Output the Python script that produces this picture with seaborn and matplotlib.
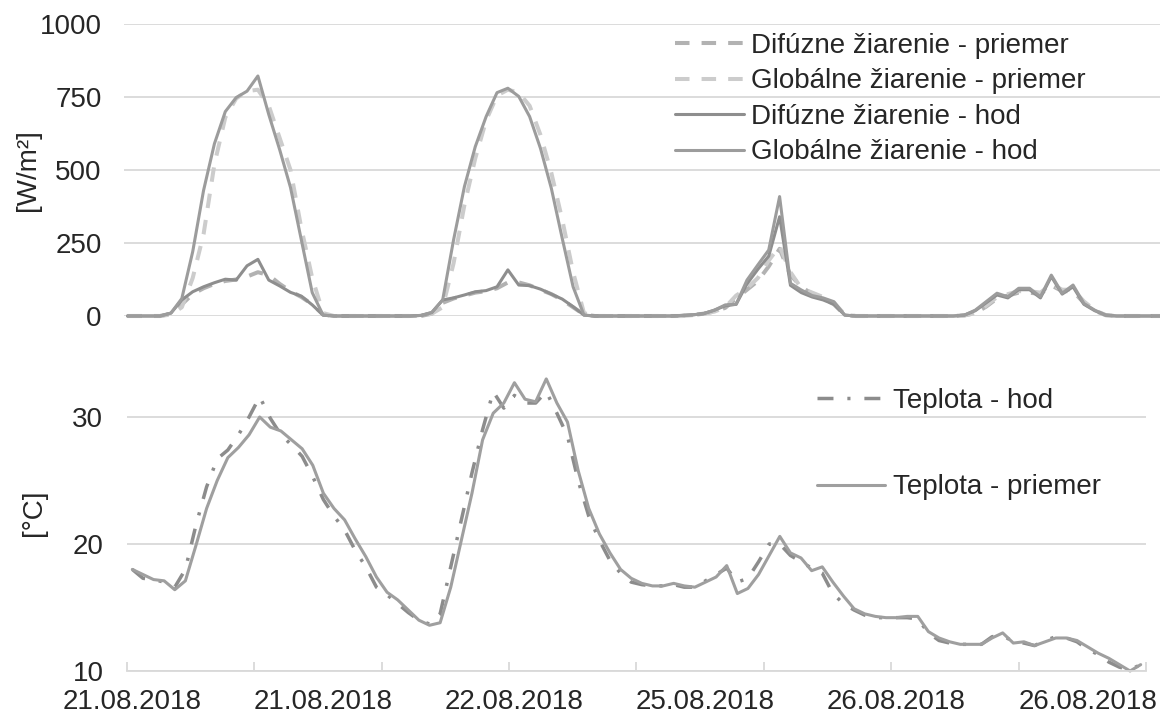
import numpy as np
import matplotlib
matplotlib.use("Agg")
import matplotlib.pyplot as plt
import seaborn as sns

# ---------------- data (hourly records, 4 measurement days) ----------------
hours_rad = list(range(96))
hours_temp = list(range(96))

dif_priemer = [0, 0, 0, 0, 8, 40, 75, 95, 110, 120, 125, 135, 150, 140, 110, 85, 65, 40, 5,
               0, 0, 0, 0, 0, 0, 0, 0, 0, 8, 45, 60, 70, 80, 85, 95, 115, 115, 105, 90, 75, 55, 30, 5,
               0, 0, 0, 0, 0, 0, 0, 0, 0, 3, 8, 15, 28, 60, 90, 120, 170, 230, 140, 100, 75, 60, 40, 3,
               0, 0, 0, 0, 0, 0, 0, 0, 0, 0, 2, 10, 32, 60, 70, 80, 80, 75, 105, 85, 85, 45, 18, 3,
               0, 0, 0, 0, 0]
glob_priemer = [0, 0, 0, 0, 5, 30, 130, 280, 520, 680, 745, 770, 775, 720, 610, 500, 300, 130, 10,
                0, 0, 0, 0, 0, 0, 0, 0, 0, 8, 30, 180, 380, 540, 670, 755, 775, 765, 720, 620, 490, 330, 150, 10,
                0, 0, 0, 0, 0, 0, 0, 0, 0, 3, 8, 15, 30, 70, 95, 130, 190, 240, 150, 95, 80, 65, 45, 5,
                0, 0, 0, 0, 0, 0, 0, 0, 0, 0, 2, 10, 35, 65, 75, 85, 85, 80, 110, 90, 90, 50, 20, 3,
                0, 0, 0, 0, 0]
dif_hod = [0, 0, 0, 0, 10, 55, 83, 100, 114, 126, 123, 172, 194, 123, 103, 81, 68, 38, 3,
           0, 0, 0, 0, 0, 0, 0, 0, 2, 12, 55, 62, 72, 83, 87, 100, 158, 106, 104, 92, 75, 58, 32, 3,
           0, 0, 0, 0, 0, 0, 0, 0, 2, 4, 8, 20, 35, 40, 110, 160, 205, 340, 105, 80, 65, 55, 40, 3,
           0, 0, 0, 0, 0, 0, 0, 0, 0, 0, 3, 18, 45, 72, 62, 90, 90, 62, 135, 75, 100, 40, 18, 3,
           0, 0, 0, 0, 0]
glob_hod = [0, 0, 0, 0, 10, 60, 220, 430, 590, 700, 748, 770, 822, 690, 570, 440, 260, 80, 3,
            0, 0, 0, 0, 0, 0, 0, 0, 2, 12, 55, 260, 443, 580, 683, 765, 780, 752, 683, 574, 437, 266, 100, 3,
            0, 0, 0, 0, 0, 0, 0, 0, 2, 4, 8, 20, 38, 40, 123, 175, 226, 409, 112, 89, 70, 62, 49, 3,
            0, 0, 0, 0, 0, 0, 0, 0, 0, 0, 3, 20, 49, 78, 66, 95, 95, 66, 140, 78, 106, 43, 20, 3,
            0, 0, 0, 0, 0]

teplota_hod = [18.0, 17.3, 17.2, 17.0, 16.6, 18.0, 21.5, 24.5, 26.7, 27.4, 28.6, 30.0, 31.6, 29.9,
               28.6, 27.8, 26.9, 25.3, 23.5, 22.2, 21.1, 19.5, 18.2, 16.6, 16.0, 15.3, 14.6, 14.0,
               13.7, 14.5, 18.2, 21.9, 25.6, 29.0, 32.0, 30.7, 31.7, 31.1, 31.1, 32.0, 30.3, 28.5,
               25.0, 22.2, 20.3, 18.7, 17.7, 17.0, 16.8, 16.7, 16.7, 16.8, 16.6, 16.6, 17.1, 17.6,
               18.1, 17.0, 17.3, 18.6, 20.0, 20.0, 19.1, 18.6, 18.1, 17.7, 16.1, 15.3, 14.8, 14.4,
               14.2, 14.2, 14.2, 14.2, 14.1, 13.0, 12.4, 12.2, 12.1, 12.1, 12.1, 12.7, 12.8, 12.3,
               12.2, 12.0, 12.4, 12.7, 12.6, 12.3, 11.7, 11.3, 10.7, 10.3, 10.1, 10.5]
teplota_priemer = [18.0, 17.6, 17.2, 17.1, 16.4, 17.1, 19.9, 22.8, 25.0, 26.8, 27.6, 28.6, 30.0, 29.2,
                   28.9, 28.2, 27.5, 26.2, 24.0, 22.8, 21.9, 20.4, 19.0, 17.4, 16.2, 15.6, 14.8, 14.0,
                   13.6, 13.8, 16.6, 20.3, 24.0, 28.2, 30.3, 31.1, 32.7, 31.4, 31.2, 33.0, 31.1, 29.6,
                   25.8, 22.8, 20.8, 19.3, 18.0, 17.3, 16.9, 16.7, 16.7, 16.9, 16.7, 16.6, 17.0, 17.4,
                   18.3, 16.1, 16.5, 17.6, 19.1, 20.6, 19.3, 18.9, 17.9, 18.2, 17.0, 15.9, 14.9, 14.5,
                   14.3, 14.2, 14.2, 14.3, 14.3, 13.1, 12.6, 12.3, 12.1, 12.1, 12.1, 12.6, 13.0, 12.2,
                   12.3, 12.0, 12.3, 12.6, 12.6, 12.4, 11.9, 11.4, 11.0, 10.5, 10.0, 10.5]

date_ticks = [0, 18, 36, 54, 72, 90]
date_labels = ["21.08.2018", "21.08.2018", "22.08.2018", "25.08.2018", "26.08.2018", "26.08.2018"]
rad_ticks = [0, 250, 500, 750, 1000]
temp_ticks = [10, 20, 30]

# ---------------- style ----------------
sns.set_theme(style="white")
plt.rcParams["font.family"] = ["Liberation Sans", "DejaVu Sans"]
TXT = "#262626"
GRID = "#d9d9d9"
FS = 20

fig = plt.figure(figsize=(11.6, 7.18), dpi=100)
W, H = 1160.0, 718.0

def px_axes(left, top, right, bottom):
    return fig.add_axes([left / W, 1 - bottom / H, (right - left) / W, (bottom - top) / H])

ax_rad = px_axes(124, 24, 1160, 316)
ax_tmp = px_axes(127, 353.5, 1146, 671)

# ---------------- radiation panel ----------------
rad_series = [
    (dif_priemer, "Difúzne žiarenie - priemer", "#b2b2b2", 2.9, (0, (3.6, 3.0))),
    (glob_priemer, "Globálne žiarenie - priemer", "#cccccc", 2.9, (0, (3.6, 3.0))),
    (dif_hod, "Difúzne žiarenie - hod", "#8e8e8e", 2.2, "-"),
    (glob_hod, "Globálne žiarenie - hod", "#9c9c9c", 2.2, "-"),
]
for vals, lab, col, lw, ls in rad_series:
    sns.lineplot(x=hours_rad, y=vals, ax=ax_rad, color=col, linewidth=lw,
                 linestyle=ls, label=lab, legend=False, clip_on=False)

ax_rad.set_xlim(-0.32, 95.0)
ax_rad.set_ylim(0, 1000)
ax_rad.set_yticks(rad_ticks)
ax_rad.set_yticklabels([str(t) for t in rad_ticks])
ax_rad.set_xticks([])
ax_rad.grid(axis="y", color=GRID, linewidth=1.3)
ax_rad.set_axisbelow(True)
for s in ax_rad.spines.values():
    s.set_visible(False)
ax_rad.tick_params(axis="y", length=0, pad=16, labelsize=FS, labelcolor=TXT)
ax_rad.set_ylabel("[W/m²]", fontsize=FS, color=TXT)
ax_rad.yaxis.set_label_coords((41 - 124) / 1036.0, 0.5)
ax_rad.set_xlabel("")

h, l = ax_rad.get_legend_handles_labels()
ax_rad.legend(h, l, loc="upper left", bbox_to_anchor=(675 / W, 1 - 33 / H),
              bbox_transform=fig.transFigure, frameon=False, fontsize=FS,
              handlelength=2.5, handletextpad=0.25, labelspacing=0.34,
              borderpad=0, borderaxespad=0, labelcolor=TXT)

# ---------------- temperature panel ----------------
sns.lineplot(x=hours_temp, y=teplota_hod, ax=ax_tmp, color="#8c8c8c", linewidth=2.5,
             linestyle=(0, (4.6, 4.0, 0.9, 4.0)), label="Teplota - hod", legend=False,
             clip_on=False)
sns.lineplot(x=hours_temp, y=teplota_priemer, ax=ax_tmp, color="#9f9f9f", linewidth=2.2,
             linestyle="-", label="Teplota - priemer", legend=False, clip_on=False)

ax_tmp.set_xlim(-0.5, 95.5)
ax_tmp.set_ylim(10, 35)
ax_tmp.set_yticks(temp_ticks)
ax_tmp.set_yticklabels([str(t) for t in temp_ticks])
ax_tmp.grid(axis="y", color=GRID, linewidth=1.3)
ax_tmp.set_axisbelow(True)
for name, s in ax_tmp.spines.items():
    s.set_visible(name == "bottom")
ax_tmp.spines["bottom"].set_color(GRID)
ax_tmp.spines["bottom"].set_linewidth(1.3)
ax_tmp.tick_params(axis="y", length=0, pad=17, labelsize=FS, labelcolor=TXT)

ax_tmp.set_xticks(date_ticks)
ax_tmp.set_xticklabels(date_labels)
ax_tmp.set_xticks(np.arange(-0.5, 96, 12), minor=True)
ax_tmp.tick_params(axis="x", which="major", length=0, pad=13, labelsize=FS, labelcolor=TXT)
ax_tmp.tick_params(axis="x", which="minor", direction="in", length=6.5, width=1.3,
                   color=GRID, bottom=True)
ax_tmp.set_ylabel("[°C]", fontsize=FS, color=TXT)
ax_tmp.yaxis.set_label_coords((47 - 127) / 1019.0, 0.5)
ax_tmp.set_xlabel("")

h, l = ax_tmp.get_legend_handles_labels()
ax_tmp.legend(h, l, loc="upper left", bbox_to_anchor=(817 / W, 1 - 388 / H),
              bbox_transform=fig.transFigure, frameon=False, fontsize=FS,
              handlelength=2.45, handletextpad=0.29, labelspacing=2.17,
              borderpad=0, borderaxespad=0, labelcolor=TXT)

fig.savefig("out.png", dpi=100)
